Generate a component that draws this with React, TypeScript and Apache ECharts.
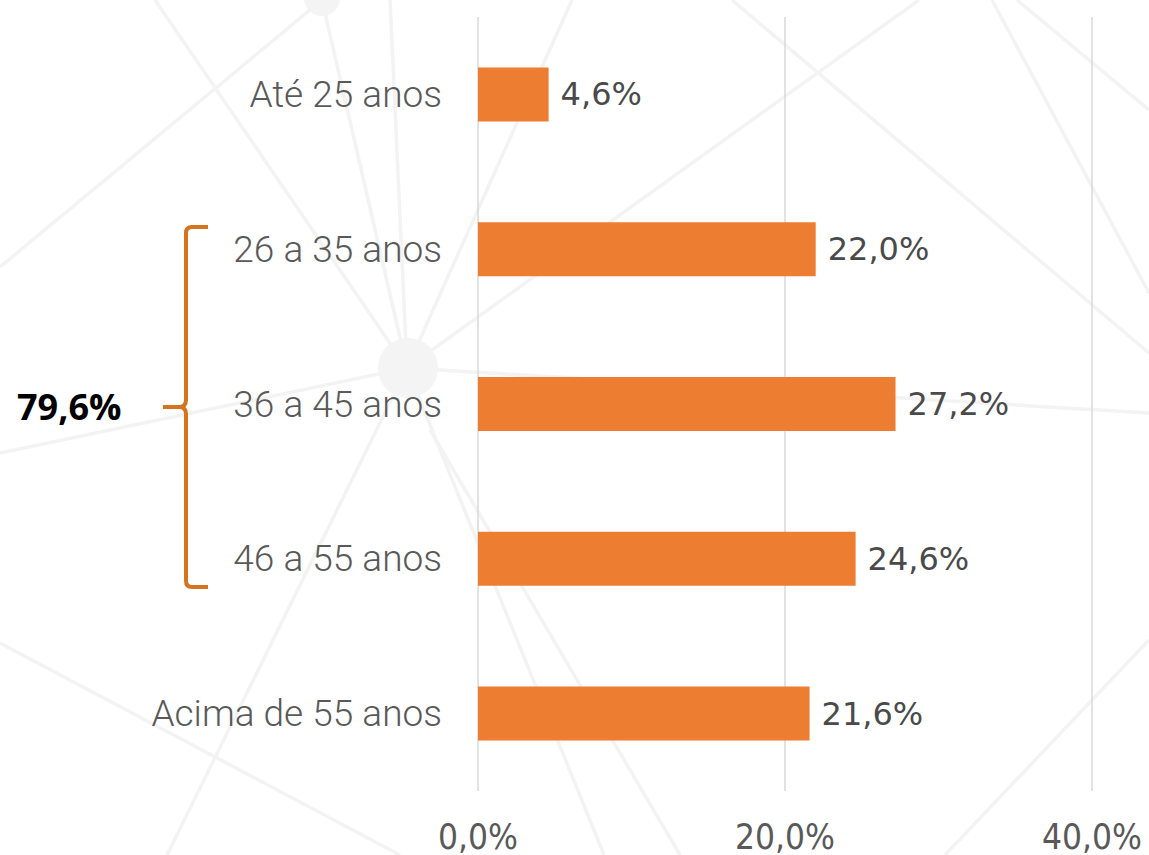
import React, { useEffect, useRef } from "react";
import * as echarts from "echarts";

const categories = ["Até 25 anos", "26 a 35 anos", "36 a 45 anos", "46 a 55 anos", "Acima de 55 anos"];
const values = [4.6, 22.0, 27.2, 24.6, 21.6];
const groupTotalLabel = "79,6%";
const axisMin = 0;
const axisMax = 40;
const axisInterval = 20;

const fmt = (v: number) => v.toFixed(1).replace(".", ",") + "%";

const BRACE_D =
  "M208,227 L192,227 Q186,227 186,233 L186,400 Q186,407 179,407 L163,407 M179,407 Q186,407 186,414 L186,581 Q186,587 192,587 L208,587";

// decorative faint network lines in the background
const bgLines: number[][] = [
  [322, 0, 0, 267],
  [322, 0, 407, 368],
  [155, 0, 407, 368],
  [390, 0, 407, 368],
  [572, 0, 407, 368],
  [919, 0, 407, 368],
  [407, 368, 0, 453],
  [407, 368, 1149, 413],
  [407, 368, 167, 855],
  [407, 368, 604, 855],
  [430, 430, 680, 855],
  [0, 643, 400, 855],
  [732, 0, 1149, 353],
  [992, 0, 1149, 293],
  [1017, 0, 1149, 110],
  [1149, 640, 945, 855],
];

export default function App() {
  const ref = useRef<HTMLDivElement>(null);
  useEffect(() => {
    if (!ref.current) return;
    try {
      echarts.graphic.registerShape("brace", echarts.graphic.extendPath(BRACE_D, {}));
    } catch (e) {}
    const chart = echarts.init(ref.current, null, { renderer: "svg" });
    const graphics: any[] = bgLines.map((l) => ({
      type: "line",
      z: -10,
      silent: true,
      shape: { x1: l[0], y1: l[1], x2: l[2], y2: l[3] },
      style: { stroke: "#f3f3f3", lineWidth: 3.5 },
    }));
    graphics.push({
      type: "circle",
      z: -9,
      silent: true,
      shape: { cx: 408, cy: 368, r: 30 },
      style: { fill: "#f4f4f4" },
    });
    graphics.push({
      type: "circle",
      z: -9,
      silent: true,
      shape: { cx: 322, cy: -2, r: 18 },
      style: { fill: "#f4f4f4" },
    });
    graphics.push({
      type: "brace",
      x: 0,
      y: 0,
      scaleX: 1,
      scaleY: 1,
      z: 10,
      style: { fill: "none", stroke: "#D5731F", lineWidth: 4, lineCap: "butt", lineJoin: "round" },
    });
    graphics.push({
      type: "text",
      z: 10,
      left: 17,
      top: 388,
      style: {
        text: groupTotalLabel,
        fontFamily: "Open Sans",
        fontWeight: "bold",
        fontSize: 36,
        fill: "#000000",
      },
    });
    chart.setOption({
      animation: false,
      backgroundColor: "#ffffff",
      grid: { left: 478, right: 57, top: 17, bottom: 64, containLabel: false },
      xAxis: {
        type: "value",
        min: axisMin,
        max: axisMax,
        interval: axisInterval,
        axisLine: { show: false },
        axisTick: { show: false },
        splitLine: { show: true, lineStyle: { color: "#d9d9d9", width: 1.5 } },
        axisLabel: {
          formatter: (v: number) => fmt(v),
          fontFamily: "DejaVu Sans Condensed, DejaVu Sans",
          fontWeight: 300,
          fontSize: 35,
          color: "#595959",
          margin: 28,
        },
      },
      yAxis: {
        type: "category",
        inverse: true,
        data: categories,
        axisLine: { show: false },
        axisTick: { show: false },
        splitLine: { show: false },
        axisLabel: {
          fontFamily: "Roboto",
          fontWeight: 300,
          fontSize: 37,
          color: "#595959",
          margin: 36,
        },
      },
      graphic: graphics,
      series: [
        {
          type: "bar",
          data: values,
          barWidth: 54,
          itemStyle: { color: "#ED7D31" },
          label: {
            show: true,
            position: "right",
            distance: 12,
            formatter: (p: any) => fmt(p.value),
            fontFamily: "DejaVu Sans",
            fontSize: 32,
            color: "#4a4a4a",
          },
        },
      ],
    });
    return () => chart.dispose();
  }, []);
  return (
    <div
      ref={ref}
      style={{ position: "absolute", left: 0, top: 0, width: 1149, height: 855 }}
    />
  );
}
